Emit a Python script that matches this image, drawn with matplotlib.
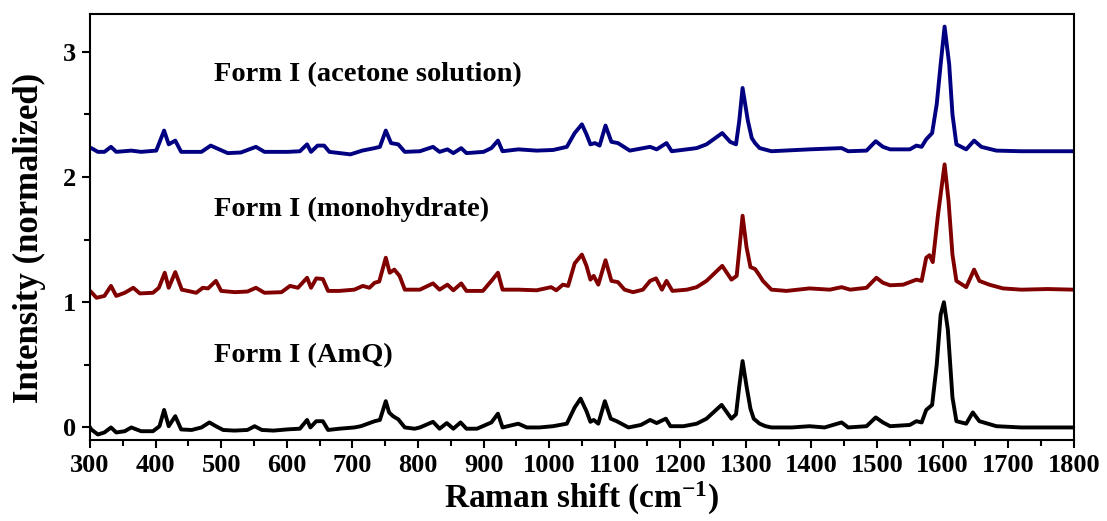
import numpy as np
import matplotlib
matplotlib.use('Agg')
import matplotlib.pyplot as plt
from matplotlib.ticker import MultipleLocator

plt.rcParams['font.family'] = ['Liberation Serif', 'DejaVu Serif']
plt.rcParams['font.weight'] = 'bold'
plt.rcParams['mathtext.fontset'] = 'custom'
plt.rcParams['mathtext.rm'] = 'Liberation Serif:bold'
plt.rcParams['mathtext.default'] = 'rm'

# Form I (AmQ)
amq_x = [300, 302, 312, 322, 332, 340, 353, 363, 378, 396, 406, 413, 420, 430, 439, 455,
         470, 482, 492, 503, 520, 540, 551, 562, 580, 602, 620, 631, 636, 645, 655, 663,
         680, 703, 713, 734, 742, 751, 756, 762, 770, 780, 795, 803, 823, 833, 844, 854,
         865, 874, 890, 912, 922, 929, 953, 966, 985, 1006, 1027, 1039, 1048, 1057, 1063,
         1068, 1075, 1085, 1094, 1103, 1121, 1140, 1154, 1164, 1178, 1185, 1205, 1225,
         1240, 1263, 1278, 1285, 1290, 1295, 1301, 1307, 1312, 1321, 1330, 1339, 1370,
         1397, 1420, 1446, 1456, 1484, 1498, 1509, 1520, 1550, 1560, 1568, 1575, 1584,
         1591, 1597, 1602, 1608, 1615, 1621, 1636, 1646, 1656, 1682, 1720, 1760, 1800]
amq_y = [0.0, -0.016, -0.056, -0.04, 0.0, -0.04, -0.03, 0.0, -0.03, -0.03, 0.01, 0.14, 0.01,
         0.09, -0.016, -0.02, 0.0, 0.04, 0.01, -0.02, -0.025, -0.02, 0.01, -0.02, -0.025,
         -0.015, -0.01, 0.06, 0.0, 0.05, 0.05, -0.02, -0.01, 0.0, 0.01, 0.05, 0.06, 0.21,
         0.12, 0.09, 0.065, 0.0, -0.01, 0.0, 0.045, -0.01, 0.035, -0.01, 0.04, -0.01, -0.01,
         0.04, 0.11, 0.0, 0.03, 0.0, 0.0, 0.01, 0.03, 0.16, 0.23, 0.13, 0.045, 0.06, 0.03,
         0.21, 0.07, 0.05, 0.0, 0.02, 0.06, 0.035, 0.07, 0.01, 0.01, 0.03, 0.07, 0.18, 0.07,
         0.105, 0.33, 0.53, 0.33, 0.15, 0.07, 0.03, 0.01, 0.0, 0.0, 0.01, 0.0, 0.04, 0.0,
         0.01, 0.08, 0.04, 0.01, 0.02, 0.05, 0.04, 0.14, 0.18, 0.50, 0.90, 1.0, 0.78, 0.24,
         0.05, 0.03, 0.12, 0.05, 0.01, 0.0, 0.0, 0.0]

# Form I (monohydrate)
mono_x = [300, 302, 310, 322, 332, 340, 353, 366, 376, 396, 405, 414, 420, 430, 440, 449,
          462, 472, 480, 492, 500, 521, 540, 553, 566, 592, 605, 617, 631, 637, 645, 655,
          663, 680, 703, 716, 726, 734, 741, 751, 757, 764, 772, 780, 803, 823, 833, 845,
          854, 866, 874, 899, 912, 922, 929, 953, 981, 1003, 1011, 1021, 1029, 1039, 1050,
          1057, 1063, 1068, 1075, 1086, 1095, 1105, 1115, 1128, 1143, 1154, 1163, 1172,
          1179, 1188, 1210, 1225, 1240, 1264, 1278, 1286, 1290, 1295, 1301, 1307, 1314,
          1320, 1326, 1339, 1362, 1397, 1428, 1446, 1459, 1484, 1499, 1509, 1520, 1540,
          1560, 1568, 1575, 1580, 1585, 1593, 1603, 1609, 1615, 1621, 1636, 1648, 1656,
          1671, 1692, 1720, 1760, 1800]
mono_y = [1.09, 1.08, 1.035, 1.05, 1.13, 1.05, 1.075, 1.115, 1.07, 1.075, 1.115, 1.235,
          1.115, 1.24, 1.10, 1.09, 1.075, 1.115, 1.11, 1.17, 1.09, 1.08, 1.085, 1.115,
          1.075, 1.08, 1.13, 1.115, 1.195, 1.115, 1.19, 1.185, 1.09, 1.09, 1.10, 1.13,
          1.115, 1.155, 1.165, 1.355, 1.235, 1.26, 1.21, 1.10, 1.10, 1.15, 1.10, 1.14,
          1.095, 1.15, 1.09, 1.09, 1.17, 1.235, 1.10, 1.10, 1.095, 1.12, 1.095, 1.14, 1.13,
          1.31, 1.38, 1.29, 1.18, 1.21, 1.14, 1.335, 1.17, 1.16, 1.10, 1.08, 1.10, 1.17,
          1.19, 1.10, 1.17, 1.09, 1.10, 1.12, 1.17, 1.29, 1.18, 1.21, 1.42, 1.69, 1.44,
          1.28, 1.265, 1.22, 1.17, 1.10, 1.09, 1.11, 1.10, 1.12, 1.10, 1.115, 1.195, 1.155,
          1.135, 1.14, 1.18, 1.17, 1.355, 1.375, 1.32, 1.70, 2.10, 1.81, 1.38, 1.17, 1.12,
          1.26, 1.17, 1.14, 1.11, 1.10, 1.105, 1.10]

# Form I (acetone solution)
acet_x = [300, 302, 312, 322, 332, 340, 363, 378, 401, 413, 420, 430, 439, 470, 484, 497,
          510, 530, 553, 566, 602, 620, 631, 637, 647, 657, 665, 697, 715, 734, 742, 751,
          759, 770, 780, 803, 823, 833, 845, 854, 866, 874, 900, 912, 922, 929, 953, 981,
          1006, 1027, 1039, 1050, 1057, 1063, 1070, 1077, 1086, 1095, 1105, 1123, 1154,
          1164, 1179, 1187, 1225, 1240, 1264, 1276, 1285, 1290, 1295, 1303, 1309, 1314,
          1321, 1339, 1397, 1446, 1456, 1484, 1498, 1509, 1520, 1550, 1560, 1568, 1575,
          1584, 1591, 1597, 1603, 1610, 1615, 1621, 1636, 1648, 1659, 1682, 1720, 1760, 1800]
acet_y = [2.23, 2.23, 2.20, 2.20, 2.24, 2.20, 2.21, 2.20, 2.21, 2.37, 2.26, 2.29, 2.20,
          2.20, 2.25, 2.22, 2.19, 2.195, 2.24, 2.20, 2.20, 2.205, 2.26, 2.20, 2.25, 2.25,
          2.20, 2.18, 2.21, 2.23, 2.24, 2.37, 2.27, 2.26, 2.20, 2.205, 2.24, 2.20, 2.22,
          2.19, 2.23, 2.19, 2.20, 2.23, 2.29, 2.205, 2.22, 2.21, 2.215, 2.24, 2.35, 2.42,
          2.34, 2.26, 2.27, 2.25, 2.41, 2.28, 2.27, 2.21, 2.24, 2.22, 2.27, 2.205, 2.23,
          2.26, 2.35, 2.28, 2.26, 2.45, 2.71, 2.45, 2.31, 2.27, 2.23, 2.205, 2.22, 2.23,
          2.205, 2.21, 2.285, 2.24, 2.22, 2.22, 2.25, 2.24, 2.30, 2.35, 2.58, 2.90, 3.20,
          2.90, 2.50, 2.26, 2.22, 2.29, 2.24, 2.21, 2.205, 2.205, 2.205]

labels = ['Form I (AmQ)', 'Form I (monohydrate)', 'Form I (acetone solution)']
label_y = [0.57, 1.74, 2.82]
colors = ['black', '#800000', '#000080']

fig = plt.figure(figsize=(11.07, 5.21), dpi=100)
ax = fig.add_axes([0.0813, 0.1555, 0.8887, 0.8175])

ax.plot(amq_x, amq_y, color=colors[0], lw=2.8, solid_joinstyle='round')
ax.plot(mono_x, mono_y, color=colors[1], lw=2.8, solid_joinstyle='round')
ax.plot(acet_x, acet_y, color=colors[2], lw=2.8, solid_joinstyle='round')

for lab, yy in zip(labels, label_y):
    ax.text(489, yy, lab, fontsize=20.5, fontweight='bold', va='center', ha='left')

ax.set_xlim(300, 1800)
ax.set_ylim(-0.1, 3.3)
ax.xaxis.set_major_locator(MultipleLocator(100))
ax.xaxis.set_minor_locator(MultipleLocator(50))
ax.yaxis.set_major_locator(MultipleLocator(1))
ax.yaxis.set_minor_locator(MultipleLocator(0.5))
ax.tick_params(which='major', direction='out', length=6, width=1.5, labelsize=19, pad=4)
ax.tick_params(which='minor', direction='out', length=4, width=1.5)
for lab in ax.get_xticklabels() + ax.get_yticklabels():
    lab.set_fontweight('bold')
for sp in ax.spines.values():
    sp.set_linewidth(1.5)

ax.set_xlabel('Raman shift (cm$^{-1}$)', fontsize=24, fontweight='bold', labelpad=2)
ax.set_ylabel('Intensity (normalized)', fontsize=25, fontweight='bold')
ax.yaxis.set_label_coords(-0.045, 0.474)

plt.savefig('out.png', dpi=100)
